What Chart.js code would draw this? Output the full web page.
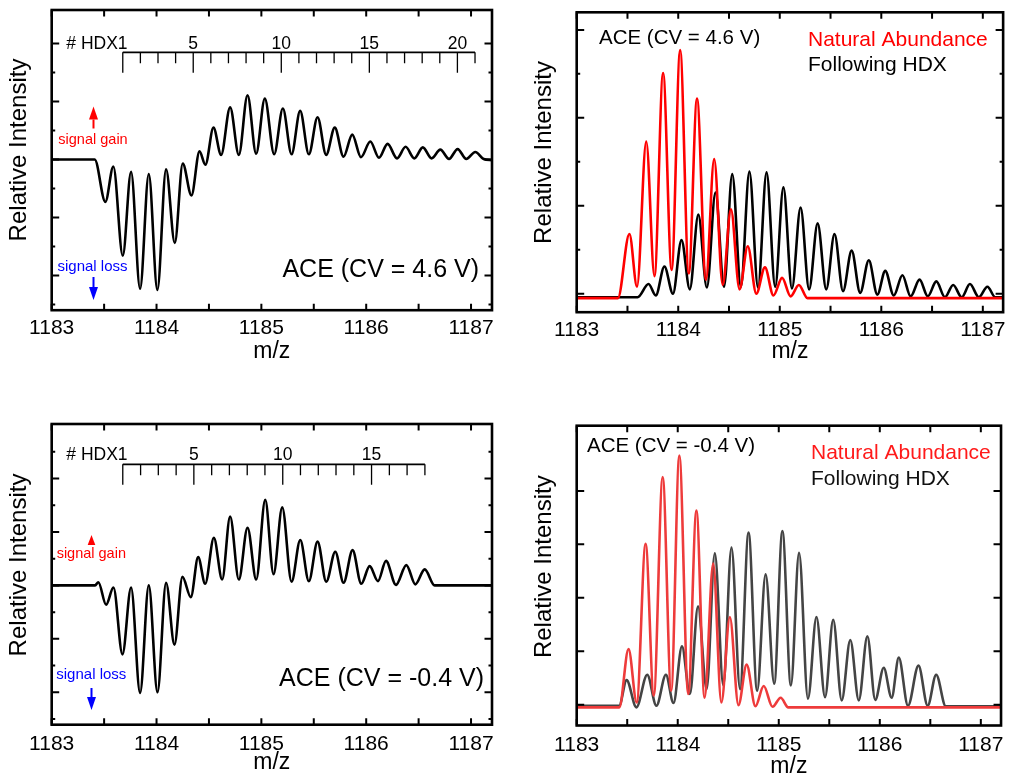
<!DOCTYPE html>
<html>
<head>
<meta charset="utf-8">
<title>ACE HDX spectra</title>
<script src="https://cdn.jsdelivr.net/npm/chart.js@4.4.1/dist/chart.umd.min.js"></script>
<style>
  html, body { margin: 0; padding: 0; background: #fff; }
  #page { position: relative; width: 1011px; height: 778px; overflow: hidden; background: #fff; }
  #page canvas { position: absolute; }
</style>
</head>
<body>
<div id="page">
  <canvas id="diff46"></canvas>
  <canvas id="spec46"></canvas>
  <canvas id="diffm04"></canvas>
  <canvas id="specm04"></canvas>
</div>
<script>
// m/z axis
const mzMin = 1183;
const mzMax = 1187.2;
const mzLabels = [1183, 1184, 1185, 1186, 1187];
const mzMarks = [1183, 1183.5, 1184, 1184.5, 1185, 1185.5, 1186, 1186.5, 1187];

// HDX - natural abundance, CV = 4.6 V (turning points of the trace)
const diff46 = [
  [1183, 0], [1183.41, 0], [1183.512, -0.73], [1183.588, -0.12], [1183.678, -1.66],
  [1183.757, -0.21], [1183.843, -2.23], [1183.926, -0.25], [1184.008, -2.25], [1184.091, -0.17],
  [1184.174, -1.44], [1184.25, -0.07], [1184.333, -0.62], [1184.41, 0.14], [1184.466, -0.09],
  [1184.543, 0.55], [1184.616, 0.08], [1184.702, 0.90], [1184.785, 0.08], [1184.868, 1.11],
  [1184.95, 0.10], [1185.033, 1.05], [1185.122, 0.09], [1185.205, 0.88], [1185.288, 0.09],
  [1185.37, 0.84], [1185.453, 0.09], [1185.536, 0.73], [1185.618, 0.08], [1185.7, 0.55],
  [1185.784, 0.05], [1185.867, 0.43], [1185.95, 0.04], [1186.039, 0.31], [1186.122, 0.03],
  [1186.204, 0.27], [1186.294, 0.02], [1186.376, 0.22], [1186.459, 0.02], [1186.54, 0.21],
  [1186.624, 0.02], [1186.707, 0.17], [1186.79, 0.01], [1186.872, 0.18], [1186.955, 0.01],
  [1187.041, 0.13], [1187.12, 0.01], [1187.2, -0.01]
];

// natural abundance and post-HDX spectra, CV = 4.6 V
const natural46 = [
  [1183, -0.05], [1183.406, -0.05], [1183.519, 0.68], [1183.594, 0.08], [1183.685, 1.73],
  [1183.766, 0.20], [1183.851, 2.51], [1183.935, 0.27], [1184.019, 2.77], [1184.104, 0.23],
  [1184.185, 2.22], [1184.273, 0.16], [1184.354, 1.53], [1184.438, 0.10], [1184.519, 0.96],
  [1184.604, 0.05], [1184.685, 0.54], [1184.769, 0.0], [1184.854, 0.30], [1184.938, -0.02],
  [1185.023, 0.18], [1185.107, -0.03], [1185.188, 0.10], [1185.273, -0.05], [1187.2, -0.05]
];
const hdx46 = [
  [1183, -0.04], [1183.6, -0.04], [1183.708, 0.11], [1183.779, -0.02], [1183.864, 0.31],
  [1183.948, 0.0], [1184.032, 0.61], [1184.114, 0.05], [1184.198, 0.90], [1184.282, 0.07],
  [1184.367, 1.15], [1184.451, 0.08], [1184.532, 1.36], [1184.617, 0.08], [1184.701, 1.39],
  [1184.786, 0.07], [1184.87, 1.38], [1184.955, 0.08], [1185.036, 1.21], [1185.12, 0.06],
  [1185.205, 0.98], [1185.289, 0.05], [1185.373, 0.80], [1185.458, 0.05], [1185.539, 0.68],
  [1185.623, 0.03], [1185.708, 0.49], [1185.792, 0.01], [1185.877, 0.38], [1185.961, -0.01],
  [1186.039, 0.26], [1186.123, -0.02], [1186.208, 0.21], [1186.289, -0.03], [1186.377, 0.16],
  [1186.458, -0.03], [1186.542, 0.14], [1186.627, -0.04], [1186.708, 0.10], [1186.792, -0.04],
  [1186.873, 0.11], [1186.961, -0.04], [1187.045, 0.08], [1187.123, -0.04], [1187.2, -0.04]
];

// HDX - natural abundance, CV = -0.4 V
const diffM04 = [
  [1183, 0], [1183.414, 0], [1183.445, 0.06], [1183.519, -0.36], [1183.589, -0.04],
  [1183.675, -1.29], [1183.757, -0.04], [1183.843, -2.01], [1183.926, 0.0], [1184.009, -2.0],
  [1184.091, 0.05], [1184.171, -1.11], [1184.247, 0.16], [1184.327, -0.22], [1184.397, 0.53],
  [1184.464, 0.03], [1184.547, 0.89], [1184.626, 0.11], [1184.702, 1.29], [1184.785, 0.11],
  [1184.868, 1.08], [1184.951, 0.11], [1185.037, 1.60], [1185.116, 0.21], [1185.199, 1.46],
  [1185.288, 0.07], [1185.371, 0.85], [1185.453, 0.08], [1185.536, 0.82], [1185.619, 0.07],
  [1185.705, 0.63], [1185.784, 0.05], [1185.87, 0.66], [1185.953, 0.03], [1186.033, 0.36],
  [1186.112, 0.08], [1186.189, 0.46], [1186.284, 0.01], [1186.383, 0.38], [1186.469, 0.02],
  [1186.558, 0.30], [1186.653, 0], [1187.2, 0]
];

// natural abundance and post-HDX spectra, CV = -0.4 V
const naturalM04 = [
  [1183, -0.05], [1183.422, -0.05], [1183.513, 1.04], [1183.594, 0.04], [1183.682, 3.01],
  [1183.763, 0.17], [1183.851, 4.26], [1183.935, 0.26], [1184.016, 4.66], [1184.104, 0.20],
  [1184.185, 3.63], [1184.266, 0.13], [1184.351, 2.64], [1184.432, 0.04], [1184.516, 1.64],
  [1184.601, -0.01], [1184.682, 0.75], [1184.769, -0.03], [1184.851, 0.35], [1184.938, -0.04],
  [1185.019, 0.13], [1185.094, -0.05], [1187.2, -0.05]
];
const hdxM04 = [
  [1183, -0.02], [1183.42, -0.02], [1183.494, 0.46], [1183.591, -0.05], [1183.698, 0.56],
  [1183.789, -0.02], [1183.883, 0.56], [1183.958, 0.03], [1184.042, 1.09], [1184.12, 0.20],
  [1184.201, 1.84], [1184.286, 0.29], [1184.367, 2.83], [1184.451, 0.36], [1184.532, 2.94],
  [1184.617, 0.29], [1184.701, 3.22], [1184.786, 0.26], [1184.87, 2.44], [1184.955, 0.39],
  [1185.036, 3.25], [1185.12, 0.36], [1185.201, 2.84], [1185.289, 0.11], [1185.373, 1.64],
  [1185.458, 0.14], [1185.539, 1.59], [1185.623, 0.08], [1185.708, 1.21], [1185.792, 0.08],
  [1185.877, 1.28], [1185.955, 0.09], [1186.039, 0.69], [1186.117, 0.13], [1186.188, 0.88],
  [1186.279, -0.02], [1186.383, 0.73], [1186.474, -0.02], [1186.558, 0.56], [1186.653, -0.03],
  [1187.2, -0.03]
];

// number of exchanged deuteriums, as m/z positions
const hdxMz46 = [
  1183.678, 1183.846, 1184.014, 1184.182, 1184.350, 1184.518, 1184.686, 1184.854, 1185.022,
  1185.190, 1185.358, 1185.526, 1185.694, 1185.862, 1186.030, 1186.198, 1186.366, 1186.534,
  1186.702, 1186.870, 1187.038
];
const hdxMzM04 = [
  1183.678, 1183.848, 1184.017, 1184.187, 1184.356, 1184.526, 1184.695, 1184.865, 1185.034,
  1185.204, 1185.373, 1185.543, 1185.712, 1185.882, 1186.051, 1186.221, 1186.390, 1186.560
];
const hdxLongTicks = [1, 5, 10, 15, 20];
const hdxNumbered = [5, 10, 15, 20];

const FONT = '"Liberation Sans", Arial, Helvetica, sans-serif';

const toPoints = pairs => pairs.map(([x, y]) => ({ x, y }));

// inward ticks on all four sides plus the box
const frameTicks = {
  id: 'frameTicks',
  afterDatasetsDraw(chart, args, opts) {
    const { ctx, chartArea: a, scales: { x, y } } = chart;
    ctx.save();
    ctx.strokeStyle = '#000';
    ctx.lineWidth = 2;
    ctx.beginPath();
    mzMarks.forEach(v => {
      const px = x.getPixelForValue(v);
      ctx.moveTo(px, a.bottom); ctx.lineTo(px, a.bottom - 6.5);
      ctx.moveTo(px, a.top); ctx.lineTo(px, a.top + 6.5);
    });
    const yTick = (v, len) => {
      const py = y.getPixelForValue(v);
      ctx.moveTo(a.left, py); ctx.lineTo(a.left + len, py);
      ctx.moveTo(a.right, py); ctx.lineTo(a.right - len, py);
    };
    opts.yMajor.forEach(v => yTick(v, 7.5));
    opts.yMinor.forEach(v => yTick(v, 3.5));
    ctx.stroke();
    ctx.lineWidth = 2.6;
    ctx.strokeRect(a.left, a.top, a.right - a.left, a.bottom - a.top);
    ctx.restore();
  }
};

// labels, arrows and the HDX ruler; positions are page pixels
const notes = {
  id: 'notes',
  afterDraw(chart, args, opts) {
    const { ctx, scales: { x } } = chart;
    const ox = opts.origin[0], oy = opts.origin[1];
    ctx.save();
    ctx.translate(-ox, -oy);

    // y axis title
    ctx.save();
    ctx.translate(opts.yTitle[0], opts.yTitle[1]);
    ctx.rotate(-Math.PI / 2);
    ctx.font = `24px ${FONT}`;
    ctx.fillStyle = '#000';
    ctx.textAlign = 'center';
    ctx.textBaseline = 'middle';
    ctx.fillText('Relative Intensity', 0, 0);
    ctx.restore();

    ctx.textBaseline = 'alphabetic';
    (opts.texts || []).forEach(t => {
      ctx.font = `${t.size}px ${FONT}`;
      ctx.fillStyle = t.color || '#000';
      ctx.textAlign = t.align || 'left';
      ctx.fillText(t.text, t.x, t.y);
    });

    (opts.arrows || []).forEach(ar => {
      const dir = ar.tip < ar.tail ? -1 : 1;
      const base = ar.tip - dir * ar.head;
      ctx.strokeStyle = ar.color;
      ctx.fillStyle = ar.color;
      ctx.lineWidth = 2;
      if (Math.abs(ar.tail - base) > 0.5) {
        ctx.beginPath();
        ctx.moveTo(ar.x, ar.tail);
        ctx.lineTo(ar.x, base);
        ctx.stroke();
      }
      ctx.beginPath();
      ctx.moveTo(ar.x, ar.tip);
      ctx.lineTo(ar.x - ar.half, base);
      ctx.lineTo(ar.x + ar.half, base);
      ctx.closePath();
      ctx.fill();
    });

    const r = opts.ruler;
    if (r) {
      const xs = r.mz.map(v => x.getPixelForValue(v));
      ctx.strokeStyle = '#000';
      ctx.lineWidth = 1.8;
      ctx.beginPath();
      ctx.moveTo(xs[0], r.y);
      ctx.lineTo(xs[xs.length - 1], r.y);
      ctx.stroke();
      ctx.lineWidth = 1.3;
      ctx.beginPath();
      xs.forEach((px, i) => {
        const len = hdxLongTicks.includes(i + 1) ? 20.5 : 11;
        ctx.moveTo(px, r.y);
        ctx.lineTo(px, r.y + len);
      });
      ctx.stroke();
      ctx.fillStyle = '#000';
      ctx.font = `17.5px ${FONT}`;
      ctx.textAlign = 'right';
      ctx.fillText('# HDX1', xs[0] + 4.8, r.labelY);
      ctx.textAlign = 'center';
      hdxNumbered.forEach(n => {
        if (n <= xs.length) ctx.fillText(String(n), xs[n - 1], r.labelY);
      });
    }
    ctx.restore();
  }
};

function makePanel(id, p) {
  const canvas = document.getElementById(id);
  const xAxisH = p.xTitleMid - p.area.b + 13.8 + 4;
  const w = p.canvas.w;
  const h = Math.ceil(p.area.b + xAxisH - p.canvas.y);
  canvas.width = w;
  canvas.height = h;
  canvas.style.left = p.canvas.x + 'px';
  canvas.style.top = p.canvas.y + 'px';
  canvas.style.width = w + 'px';
  canvas.style.height = h + 'px';

  return new Chart(canvas.getContext('2d'), {
    type: 'line',
    data: {
      datasets: p.series.map(s => ({
        data: toPoints(s.data),
        borderColor: s.color,
        borderWidth: 2.6,
        pointRadius: 0,
        fill: false,
        cubicInterpolationMode: 'monotone',
        borderJoinStyle: 'round',
        borderCapStyle: 'round'
      }))
    },
    options: {
      responsive: false,
      animation: false,
      events: [],
      layout: {
        padding: {
          top: p.area.t - p.canvas.y,
          right: p.canvas.x + w - p.area.r,
          left: 0,
          bottom: 0
        }
      },
      plugins: {
        legend: { display: false },
        tooltip: { enabled: false },
        frameTicks: { yMajor: p.yMajor, yMinor: p.yMinor },
        notes: {
          origin: [p.canvas.x, p.canvas.y],
          yTitle: p.yTitle,
          texts: p.texts,
          arrows: p.arrows,
          ruler: p.ruler
        }
      },
      scales: {
        x: {
          type: 'linear',
          min: mzMin,
          max: mzMax,
          afterBuildTicks: s => { s.ticks = mzLabels.map(v => ({ value: v })); },
          afterFit: s => { s.height = xAxisH; },
          grid: { display: false, drawTicks: false },
          border: { display: false },
          ticks: {
            autoSkip: false,
            maxRotation: 0,
            padding: p.tickPad,
            color: '#000',
            font: { family: FONT, size: 21 },
            callback: v => String(v)
          },
          title: {
            display: true,
            text: 'm/z',
            color: '#000',
            font: { family: FONT, size: 23 },
            padding: { top: 0, bottom: 4 }
          }
        },
        y: {
          type: 'linear',
          min: p.yMin,
          max: p.yMax,
          afterFit: s => { s.width = p.area.l - p.canvas.x; },
          grid: { display: false, drawTicks: false },
          border: { display: false },
          ticks: { display: false }
        }
      }
    },
    plugins: [frameTicks, notes]
  });
}

makePanel('diff46', {
  canvas: { x: 0, y: 0, w: 505 },
  area: { l: 51.7, t: 10, r: 492, b: 310 },
  xTitleMid: 351, tickPad: 5.5,
  yMin: -2.6, yMax: 2.58,
  yMajor: [-2, -1, 0, 1, 2], yMinor: [-2.5, -1.5, -0.5, 0.5, 1.5],
  yTitle: [19.5, 150],
  series: [{ data: diff46, color: '#000' }],
  texts: [
    { text: 'ACE (CV = 4.6 V)', x: 479, y: 277, size: 25, align: 'right' },
    { text: 'signal gain', x: 93, y: 144, size: 14.5, color: '#ff0000', align: 'center' },
    { text: 'signal loss', x: 92.5, y: 270.5, size: 15, color: '#0000ff', align: 'center' }
  ],
  arrows: [
    { x: 93.5, tail: 128.5, tip: 106.5, head: 13, half: 4.5, color: '#ff0000' },
    { x: 93.5, tail: 277, tip: 300, head: 13, half: 4.5, color: '#0000ff' }
  ],
  ruler: { mz: hdxMz46, y: 52.3, labelY: 49 }
});

makePanel('spec46', {
  canvas: { x: 515, y: 0, w: 496 },
  area: { l: 576.7, t: 12.3, r: 1009, b: 311.7 },
  xTitleMid: 350.7, tickPad: 5.5,
  yMin: -0.21, yMax: 3.2,
  yMajor: [0, 1, 2, 3], yMinor: [0.5, 1.5, 2.5],
  yTitle: [544.5, 152.5],
  series: [
    { data: natural46, color: '#ff0000' },
    { data: hdx46, color: '#000000' }
  ],
  texts: [
    { text: 'ACE (CV = 4.6 V)', x: 599, y: 44, size: 20.5 },
    { text: 'Natural Abundance', x: 808, y: 46, size: 21, color: '#ff0000' },
    { text: 'Following HDX', x: 808, y: 71, size: 21 }
  ]
});

makePanel('diffm04', {
  canvas: { x: 0, y: 400, w: 505 },
  area: { l: 51.7, t: 424, r: 492, b: 724 },
  xTitleMid: 761.5, tickPad: 6.5,
  yMin: -2.606, yMax: 3.02,
  yMajor: [-2, -1, 0, 1, 2], yMinor: [-2.5, -1.5, -0.5, 0.5, 1.5, 2.5],
  yTitle: [19.5, 565],
  series: [{ data: diffM04, color: '#000' }],
  texts: [
    { text: 'ACE (CV = -0.4 V)', x: 484, y: 686, size: 25, align: 'right' },
    { text: 'signal gain', x: 91.3, y: 557.5, size: 14.5, color: '#ff0000', align: 'center' },
    { text: 'signal loss', x: 91.3, y: 679.3, size: 15, color: '#0000ff', align: 'center' }
  ],
  arrows: [
    { x: 91.5, tail: 545, tip: 535, head: 10, half: 3.8, color: '#ff0000' },
    { x: 91.5, tail: 688, tip: 710, head: 13, half: 4.5, color: '#0000ff' }
  ],
  ruler: { mz: hdxMzM04, y: 464.3, labelY: 460 }
});

makePanel('specm04', {
  canvas: { x: 515, y: 400, w: 496 },
  area: { l: 576.7, t: 425.7, r: 1009, b: 725 },
  xTitleMid: 765.7, tickPad: 7.5,
  yMin: -0.39, yMax: 5.22,
  yMajor: [0, 1, 2, 3, 4], yMinor: [],
  yTitle: [544.5, 566.7],
  series: [
    { data: naturalM04, color: '#ee3b3b' },
    { data: hdxM04, color: '#444444' }
  ],
  texts: [
    { text: 'ACE (CV = -0.4 V)', x: 587, y: 451.7, size: 20.5 },
    { text: 'Natural Abundance', x: 811, y: 459, size: 21, color: '#ff1a1a' },
    { text: 'Following HDX', x: 811, y: 485, size: 21, color: '#111' }
  ]
});
</script>
</body>
</html>
